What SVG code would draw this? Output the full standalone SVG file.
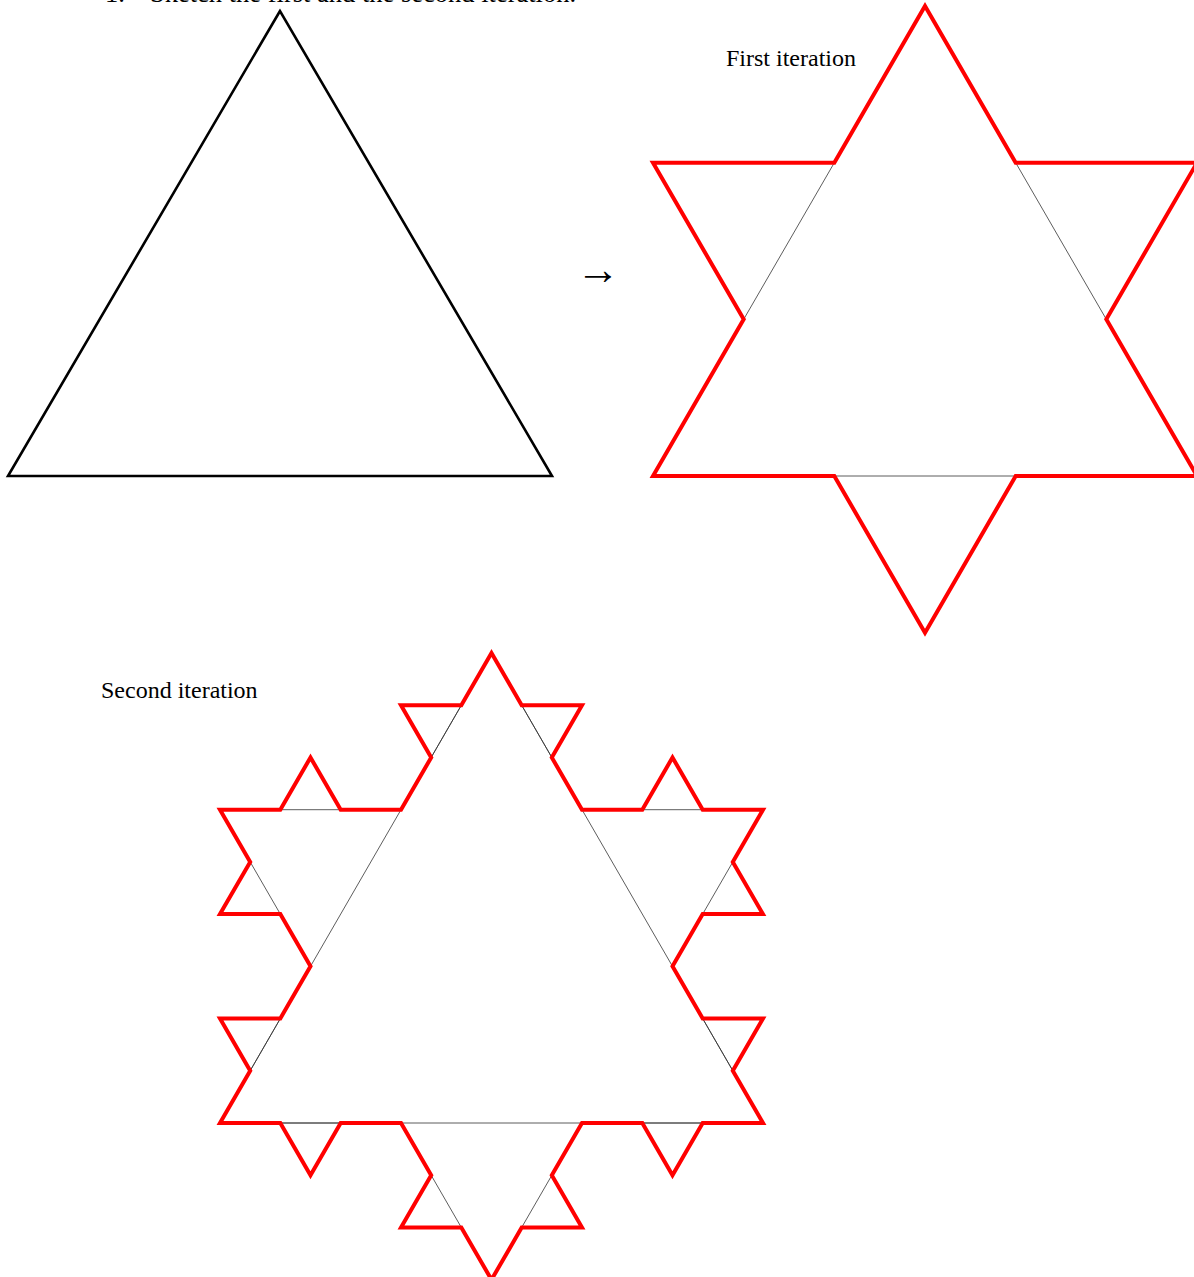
<svg xmlns="http://www.w3.org/2000/svg" width="1194" height="1277" viewBox="0 0 1194 1277">
  <style>
    .txt { font-family: "Liberation Serif", "Times New Roman", serif; font-size: 24px; fill: #000; }
    .thin { fill: none; stroke: #333; stroke-width: 0.8; }
    .red { fill: none; stroke: #ff0000; stroke-width: 4; stroke-linejoin: miter; stroke-miterlimit: 10; }
    .black { fill: none; stroke: #000; stroke-width: 2.6; stroke-linejoin: miter; stroke-miterlimit: 10; }
  </style>
  <rect width="1194" height="1277" fill="#fff"/>
  <g id="heading">
    <text class="txt" x="105" y="1.5" style="font-size:26.5px">1.</text>
    <text class="txt" x="150" y="1.5" style="font-size:26.5px">Sketch the first and the second iteration.</text>
  </g>
  <g id="original-triangle">
    <polygon class="black" points="280,11 8,476 552,476"/>
  </g>
  <g id="connectors">
    <text class="txt" x="576" y="284" style="font-size:44px">→</text>
  </g>
  <g id="first-iteration">
    <text class="txt" x="726" y="66">First iteration</text>
    <polygon class="thin" points="925,6 653,476 1197,476"/>
    <polygon class="red" points="925,6 1015.7,162.7 1197,162.7 1106.3,319.3 1197,476 1015.7,476 925,632.7 834.3,476 653,476 743.7,319.3 653,162.7 834.3,162.7"/>
  </g>
  <g id="second-iteration">
    <text class="txt" x="101" y="698">Second iteration</text>
    <polygon class="thin" points="491.5,653 220,1123 763,1123"/>
    <polygon class="thin" points="491.5,653 582,809.7 763,809.7 672.5,966.3 763,1123 582,1123 491.5,1279.7 401,1123 220,1123 310.5,966.3 220,809.7 401,809.7"/>
    <polygon class="red" points="491.5,653 521.7,705.2 582,705.2 551.8,757.5 582,809.7 642.3,809.7 672.5,757.5 702.7,809.7 763,809.7 732.8,861.9 762.9,914.1 702.7,914.1 672.5,966.3 702.7,1018.5 763,1018.5 732.8,1070.8 763,1123 702.7,1123 672.5,1175.3 642.3,1123 582,1123 551.8,1175.2 582,1227.5 521.7,1227.5 491.5,1279.7 461.3,1227.5 401,1227.5 431.2,1175.2 401,1123 340.7,1123 310.5,1175.3 280.3,1123 220,1123 250.2,1070.8 220,1018.5 280.3,1018.5 310.5,966.3 280.3,914.1 220,914.1 250.2,861.9 220,809.7 280.3,809.7 310.5,757.5 340.7,809.7 401,809.7 431.2,757.5 401,705.2 461.3,705.2"/>
  </g>
</svg>
